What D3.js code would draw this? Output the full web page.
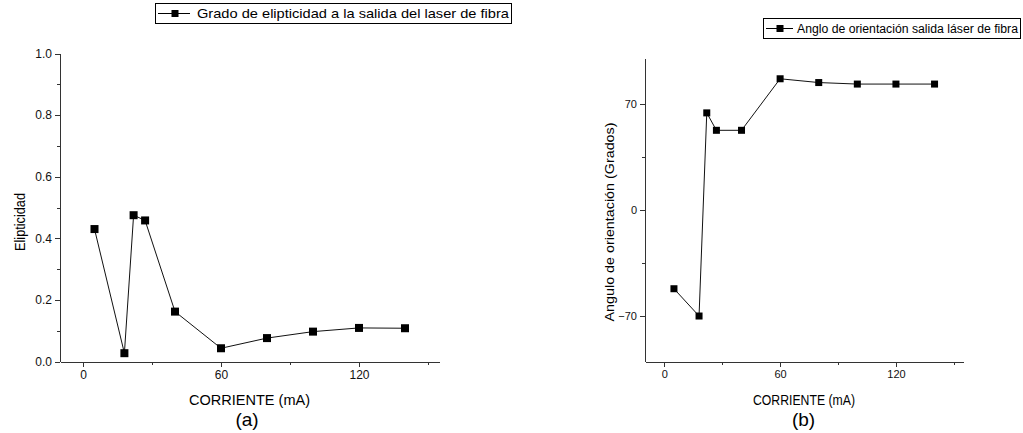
<!DOCTYPE html>
<html>
<head>
<meta charset="utf-8">
<script src="https://cdn.jsdelivr.net/npm/d3@7"></script>
<style>
  html, body { margin: 0; padding: 0; background: #fff; }
  svg { display: block; font-family: "Liberation Sans", Arial, sans-serif; }
  .axis path, .axis line { stroke: #333; shape-rendering: crispEdges; }
  .axis text { fill: #111; }
</style>
</head>
<body>
<svg id="chart" width="1023" height="433"></svg>
<script>
// ---- Data ----
const corriente = [5, 18, 22, 27, 40, 60, 80, 100, 120, 140];
const elipticidad = [0.43, 0.027, 0.475, 0.458, 0.162, 0.043, 0.076, 0.097, 0.109, 0.108];
const angulo = [-52, -70, 64, 52.5, 52.5, 86.5, 84, 83, 83, 83];

const xMajorTicks = [0, 60, 120];
const xMinorTicks = [30, 90, 150];
const yLeftMajor = [0, 0.2, 0.4, 0.6, 0.8, 1.0];
const yLeftMinor = [0.1, 0.3, 0.5, 0.7, 0.9];
const yRightMajor = [-70, 0, 70];
const yRightMinor = [-35, 35];

const legendA = "Grado de elipticidad a la salida del laser de fibra";
const legendB = "Anglo de orientación salida láser de fibra";
const xTitle = "CORRIENTE (mA)";
const yTitleA = "Elipticidad";
const yTitleB = "Angulo de orientación (Grados)";

const svg = d3.select("#chart");

function panel(cfg) {
  const g = svg.append("g");
  const x = d3.scaleLinear().domain([-10, 155]).range([cfg.x0, cfg.x1]);
  const y = d3.scaleLinear().domain(cfg.yDomain).range([cfg.yb, cfg.yt]);

  // x axis major
  const xa = g.append("g").attr("class", "axis")
    .attr("transform", `translate(0,${cfg.yb})`)
    .call(d3.axisBottom(x).tickValues(xMajorTicks).tickSize(5).tickSizeOuter(0).tickPadding(4).tickFormat(d3.format("d")));
  xa.selectAll("text").attr("font-size", cfg.tickFont).attr("font-family", "Liberation Sans, Arial, sans-serif");
  // x axis minor
  g.append("g").attr("class", "axis")
    .attr("transform", `translate(0,${cfg.yb})`)
    .call(d3.axisBottom(x).tickValues(xMinorTicks).tickSize(3).tickSizeOuter(0).tickFormat(""))
    .select(".domain").remove();

  // y axis major
  const ya = g.append("g").attr("class", "axis")
    .attr("transform", `translate(${cfg.x0},0)`)
    .call(d3.axisLeft(y).tickValues(cfg.yMajor).tickSize(5).tickSizeOuter(0).tickPadding(3).tickFormat(cfg.yFmt));
  ya.selectAll("text").attr("font-size", cfg.tickFont).attr("font-family", "Liberation Sans, Arial, sans-serif");
  g.append("g").attr("class", "axis")
    .attr("transform", `translate(${cfg.x0},0)`)
    .call(d3.axisLeft(y).tickValues(cfg.yMinor).tickSize(3).tickSizeOuter(0).tickFormat(""))
    .select(".domain").remove();

  g.selectAll(".axis text").attr("fill", "#111");

  // line
  const line = d3.line().x((d, i) => x(corriente[i])).y(d => y(d));
  g.append("path").datum(cfg.values)
    .attr("fill", "none").attr("stroke", "#111").attr("stroke-width", 1)
    .attr("d", line);

  // markers
  const s = cfg.marker;
  g.selectAll("rect.pt").data(cfg.values).join("rect")
    .attr("class", "pt")
    .attr("x", (d, i) => x(corriente[i]) - s / 2)
    .attr("y", d => y(d) - s / 2)
    .attr("width", s).attr("height", s)
    .attr("fill", "#000");

  // axis titles
  g.append("text")
    .attr("x", cfg.xTitleX).attr("y", 405)
    .attr("text-anchor", "middle").attr("font-size", 14)
    .attr("textLength", cfg.xTitleLen).attr("lengthAdjust", "spacingAndGlyphs")
    .text(xTitle);
  g.append("text")
    .attr("x", cfg.labelX).attr("y", 426)
    .attr("text-anchor", "middle").attr("font-size", 19)
    .text(cfg.label);
  g.append("text")
    .attr("transform", `translate(${cfg.yTitleX},${cfg.yTitleY}) rotate(-90)`)
    .attr("text-anchor", "middle").attr("font-size", cfg.yTitleFont)
    .attr("textLength", cfg.yTitleLen).attr("lengthAdjust", "spacingAndGlyphs")
    .text(cfg.yTitle);

  // legend
  const L = cfg.legend;
  g.append("rect").attr("x", L.x + 0.5).attr("y", L.y + 0.5)
    .attr("width", L.w).attr("height", L.h)
    .attr("fill", "#fff").attr("stroke", "#000").attr("stroke-width", 1)
    .attr("shape-rendering", "crispEdges");
  const cy = L.y + L.h / 2 + 0.5;
  g.append("line").attr("x1", L.x + 3).attr("x2", L.x + L.lineEnd).attr("y1", cy).attr("y2", cy)
    .attr("stroke", "#000").attr("stroke-width", 1);
  g.append("rect").attr("x", L.x + L.mark - 3.5).attr("y", cy - 3.5).attr("width", 7).attr("height", 7).attr("fill", "#000");
  g.append("text").attr("x", L.tx).attr("y", L.y + L.h - 5)
    .attr("font-size", L.font)
    .attr("textLength", L.tlen).attr("lengthAdjust", "spacingAndGlyphs")
    .text(L.text);
}

panel({
  x0: 60, x1: 439.5, yb: 361.5, yt: 53.5, yDomain: [0, 1],
  yMajor: yLeftMajor, yMinor: yLeftMinor, yFmt: d3.format(".1f"),
  values: elipticidad, marker: 8, tickFont: 12,
  xTitleX: 249.5, xTitleLen: 121, label: "(a)", labelX: 247,
  yTitle: yTitleA, yTitleX: 25, yTitleY: 222, yTitleFont: 14, yTitleLen: 58,
  legend: { x: 155, y: 3, w: 356, h: 20, tx: 197, tlen: 312, font: 13, text: legendA, lineEnd: 35, mark: 20 }
});

panel({
  x0: 645, x1: 963.5, yb: 361.5, yt: 58.3, yDomain: [-100, 100],
  yMajor: yRightMajor, yMinor: yRightMinor, yFmt: d3.format("d"),
  values: angulo, marker: 7, tickFont: 11,
  xTitleX: 804, xTitleLen: 102, label: "(b)", labelX: 803.5,
  yTitle: yTitleB, yTitleX: 614, yTitleY: 222, yTitleFont: 12, yTitleLen: 199,
  legend: { x: 763, y: 18, w: 257, h: 20, tx: 797, tlen: 221, font: 12, text: legendB, lineEnd: 30, mark: 17 }
});
</script>
</body>
</html>
